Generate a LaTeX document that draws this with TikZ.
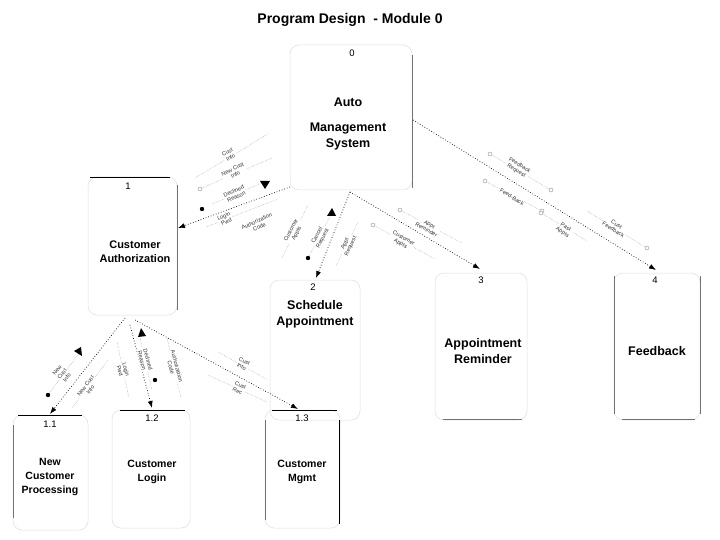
\documentclass[tikz,border=0pt]{standalone}
\usepackage{fontspec}
\setmainfont{Liberation Sans}
\usetikzlibrary{arrows.meta}
\begin{document}
\begin{tikzpicture}[x=1pt,y=-1pt,
  box/.style={draw=black!13, line width=0.5pt, rounded corners=9pt, inner sep=0},
  edgeline/.style={draw=black!55, line width=0.6pt},
  hdr/.style={draw=black, line width=0.7pt},
  num/.style={font=\fontsize{9.5}{10}\selectfont, inner sep=0},
  bigt/.style={font=\bfseries\fontsize{12.5}{16}\selectfont, align=center, inner sep=0},
  smallt/.style={font=\bfseries\fontsize{10.5}{14}\selectfont, align=center, inner sep=0},
  conn/.style={dotted, line width=0.7pt, -{Latex[length=7pt,width=5pt]}},
  cpl/.style={densely dotted, draw=black!45, line width=0.4pt},
  clab/.style={font=\fontsize{5.6}{6.2}\selectfont, align=center, inner sep=0.5pt, text=black!80, fill=white},
  ring/.style={draw=black!45, line width=0.4pt, fill=white}
]
\useasboundingbox (0,0) rectangle (720,540);

% title
\node[font=\bfseries\fontsize{14}{16}\selectfont, inner sep=0] (title) at (350,20) {Program Design\ \ - Module 0};

% boxes
\node[box, minimum width=122pt, minimum height=145pt] (b0) at (351,117.5) {};
\node[box, minimum width=89pt, minimum height=138pt] (b1) at (132.5,246) {};
\node[box, minimum width=90pt, minimum height=140pt] (b2) at (315,350) {};
\node[box, minimum width=92pt, minimum height=147pt] (b3) at (481,346.5) {};
\node[box, minimum width=86pt, minimum height=147pt] (b4) at (657,346.5) {};
\node[box, minimum width=75pt, minimum height=115pt] (b11) at (50.5,472.5) {};
\node[box, minimum width=78pt, minimum height=118pt] (b12) at (151,469) {};
\node[box, minimum width=75pt, minimum height=118pt] (b13) at (302.5,469) {};

% visible edges
\draw[edgeline] (412,55) -- (412,188);
\draw[hdr] (90,177) -- (170,177);
\draw[edgeline] (177,185) -- (177,310);
\draw[edgeline] (443,419) -- (522,419);
\draw[edgeline] (614,276) -- (614,414);
\draw[edgeline] (700,276) -- (700,414);
\draw[edgeline] (622,419) -- (695,419);
\draw[hdr] (18,415) -- (82,415);
\draw[edgeline] (13,425) -- (13,518);
\draw[hdr] (120,410) -- (185,410);
\draw[hdr] (272,410) -- (337,410);
\draw[edgeline] (265,420) -- (265,520);
\draw[hdr] (339,420) -- (339,524);

% numbers
\node[num] (n0) at (352,53) {0};
\node[num] (n1) at (128,186) {1};
\node[num] (n2) at (313,287) {2};
\node[num] (n3) at (481,280) {3};
\node[num] (n4) at (655,280) {4};
\node[num] (n11) at (50,424) {1.1};
\node[num] (n12) at (152,418) {1.2};
\node[num] (n13) at (302,418) {1.3};

% box texts
\node[bigt] (t0a) at (348,102) {Auto};
\node[bigt] (t0b) at (348,136) {Management\\System};
\node[smallt, font=\bfseries\fontsize{11}{14}\selectfont] (t1) at (135,252) {Customer\\Authorization};
\node[bigt] (t2) at (315,314) {Schedule\\Appointment};
\node[bigt] (t3) at (483,351) {Appointment\\Reminder};
\node[bigt] (t4) at (657,351) {Feedback};
\node[smallt] (t11) at (50,477) {New\\Customer\\Processing};
\node[smallt] (t12) at (152,472) {Customer\\Login};
\node[smallt] (t13) at (302,472) {Customer\\Mgmt};

% connector anchors
\coordinate (s01) at (290,187);
\coordinate (e01) at (178,228);
\coordinate (s02) at (350,192);
\coordinate (e02) at (316,278);
\coordinate (e03) at (480,269);
\coordinate (s04) at (413,120);
\coordinate (e04) at (656,270);
\coordinate (s1a) at (125,318);
\coordinate (s1b) at (130,325);
\coordinate (s1c) at (135,320);
\coordinate (e11) at (50,414);
\coordinate (e12) at (152,408);
\coordinate (e13) at (298,409);

% connectors
\draw[conn] (s01) -- (e01);
\draw[conn] (s02) -- (e02);
\draw[conn] (s02) -- (e03);
\draw[conn] (s04) -- (e04);
\draw[conn] (s1a) -- (e11);
\draw[conn] (s1b) -- (e12);
\draw[conn] (s1c) -- (e13);

% couples 0 -> 1
\draw[cpl] (195,178) -- (268,134);
\node[clab, rotate=31] (l1) at (229,155) {Cust\\Info};
\draw[cpl] (202,188) -- (272,158);
\draw[ring] (200,189) circle (2pt);
\node[clab, rotate=27] (l2) at (234,172) {New Cust\\Info};
\draw[cpl] (212,204) -- (262,183);
\node[clab, rotate=25] (l3) at (235,194) {Declined\\Reason};
\fill (260,181) -- (270,181) -- (265,189) -- cycle;
\fill (202,209) circle (2.2pt);
\draw[cpl] (206,227) -- (278,199);
\node[clab, rotate=25] (l4) at (225,219) {Login\\Pwd};
\node[clab, rotate=25] (l5) at (258,224) {Authorization\\Code};

% couples 0 -> 2
\draw[cpl] (282,258) -- (308,205);
\node[clab, rotate=62] (l6) at (294,232) {Customer\\Appts};
\draw[cpl] (308,258) -- (332,213);
\node[clab, rotate=62] (l7) at (320,237) {Cancel\\Request};
\fill (327,216) -- (336,216) -- (332,208) -- cycle;
\fill (308,258) circle (2.2pt);
\draw[cpl] (336,266) -- (358,222);
\node[clab, rotate=65] (l8) at (348,245) {Appt\\Request};

% couples 0 -> 3
\draw[cpl] (402,211) -- (462,243);
\draw[ring] (400,210) circle (2pt);
\node[clab, rotate=-30] (l9) at (428,227) {Appt\\Reminder};
\draw[cpl] (375,226) -- (435,259);
\draw[ring] (373,225) circle (2pt);
\node[clab, rotate=-30] (l10) at (402,241) {Customer\\Appts};

% couples 0 -> 4
\draw[cpl] (492,155) -- (549,189);
\draw[ring] (490,154) circle (2pt);
\draw[ring] (551,190) circle (2pt);
\node[clab, rotate=-32] (l11) at (518,168) {Feedback\\Request};
\draw[cpl] (487,182) -- (540,210);
\draw[ring] (485,181) circle (2pt);
\draw[ring] (542,211) circle (2pt);
\node[clab, rotate=-32] (l12) at (512,197) {Feed-Back};
\draw[cpl] (543,214) -- (587,241);
\draw[ring] (541,213) circle (2pt);
\node[clab, rotate=-32] (l13) at (564,230) {Past\\Appts};
\draw[cpl] (587,211) -- (645,247);
\draw[ring] (647,248) circle (2pt);
\node[clab, rotate=-32] (l14) at (615,227) {Cust\\Feedback};

% couples 1 -> 1.1
\draw[cpl] (48,395) -- (80,352);
\node[clab, rotate=53] (l15) at (62,374) {New\\Cust\\Info};
\fill (74,351) -- (82,356) -- (81,347) -- cycle;
\fill (48,395) circle (2.2pt);
\draw[cpl] (72,408) -- (108,360);
\node[clab, rotate=53] (l16) at (88,388) {New Cust\\Info};

% couples 1 -> 1.2
\draw[cpl] (117,342) -- (129,398);
\node[clab, rotate=-75] (l17) at (123,370) {Login\\Pwd};
\draw[cpl] (140,338) -- (152,390);
\node[clab, rotate=-75] (l18) at (145,360) {Declined\\Reason};
\fill (138,337) -- (146,336) -- (141,328) -- cycle;
\fill (155,380) circle (2.2pt);
\draw[cpl] (167,338) -- (181,398);
\node[clab, rotate=-75] (l19) at (174,367) {Authorization\\Code};

% couples 1 -> 1.3
\draw[cpl] (218,352) -- (268,380);
\node[clab, rotate=-28] (l20) at (243,364) {Cust\\Info};
\draw[cpl] (208,375) -- (267,402);
\node[clab, rotate=-28] (l21) at (239,388) {Cust\\Rec};
\end{tikzpicture}
\end{document}
